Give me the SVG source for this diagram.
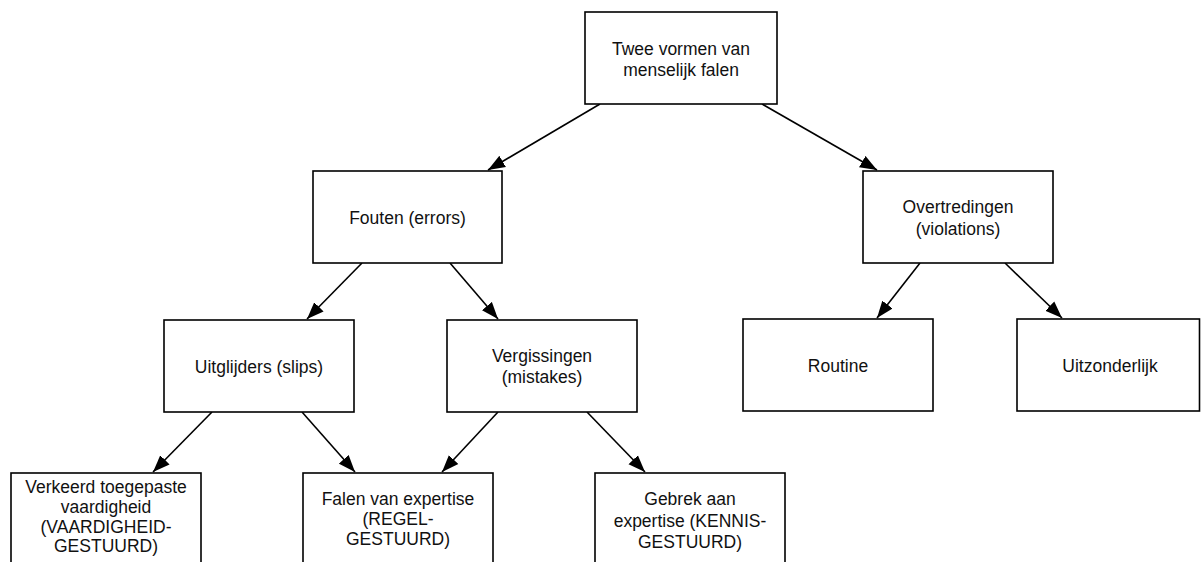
<svg xmlns="http://www.w3.org/2000/svg" width="1201" height="562" viewBox="0 0 1201 562">
<defs>
<marker id="ah" markerUnits="userSpaceOnUse" markerWidth="18" markerHeight="14" refX="17" refY="7" orient="auto">
<path d="M0,0.5 L17,7 L0,13.5 z" fill="#000"/>
</marker>
<style>
.box{fill:#fff;stroke:#000;stroke-width:1.6}
.t{font-family:"Liberation Sans",Arial,sans-serif;font-size:17.5px;fill:#111;text-anchor:middle}
.c{stroke:#000;stroke-width:1.6;fill:none;marker-end:url(#ah)}
</style>
</defs>
<rect width="1201" height="562" fill="#fff"/>
<g id="connectors">
<line class="c" x1="600" y1="104" x2="488" y2="170"/>
<line class="c" x1="762" y1="104" x2="877" y2="170"/>
<line class="c" x1="362" y1="263" x2="307" y2="319"/>
<line class="c" x1="450" y1="263" x2="498" y2="319"/>
<line class="c" x1="920" y1="263" x2="877" y2="318"/>
<line class="c" x1="1005" y1="263" x2="1062" y2="318"/>
<line class="c" x1="212" y1="412" x2="153" y2="472"/>
<line class="c" x1="302" y1="412" x2="355" y2="472"/>
<line class="c" x1="498" y1="412" x2="442" y2="472"/>
<line class="c" x1="587" y1="412" x2="645" y2="472"/>
</g>
<g id="n-top">
<rect class="box" x="585" y="12" width="192" height="92"/>
<text class="t" x="681" y="55">Twee vormen van</text>
<text class="t" x="681" y="76">menselijk falen</text>
</g>
<g id="n-fouten">
<rect class="box" x="313" y="171" width="189" height="92"/>
<text class="t" x="407.5" y="224">Fouten (errors)</text>
</g>
<g id="n-overtredingen">
<rect class="box" x="863" y="171" width="190" height="92"/>
<text class="t" x="958" y="213">Overtredingen</text>
<text class="t" x="958" y="235">(violations)</text>
</g>
<g id="n-uitglijders">
<rect class="box" x="164" y="320" width="190" height="92"/>
<text class="t" x="259" y="373">Uitglijders (slips)</text>
</g>
<g id="n-vergissingen">
<rect class="box" x="447" y="320" width="190" height="92"/>
<text class="t" x="542" y="362">Vergissingen</text>
<text class="t" x="542" y="383">(mistakes)</text>
</g>
<g id="n-routine">
<rect class="box" x="743" y="319" width="190" height="92"/>
<text class="t" x="838" y="372">Routine</text>
</g>
<g id="n-uitzonderlijk">
<rect class="box" x="1017" y="319" width="182.5" height="92"/>
<text class="t" x="1110" y="372">Uitzonderlijk</text>
</g>
<g id="n-verkeerd">
<rect class="box" x="11" y="473" width="190" height="110"/>
<text class="t" x="106" y="493">Verkeerd toegepaste</text>
<text class="t" x="106" y="513">vaardigheid</text>
<text class="t" x="106" y="533">(VAARDIGHEID-</text>
<text class="t" x="106" y="552">GESTUURD)</text>
</g>
<g id="n-falen">
<rect class="box" x="303" y="473" width="190" height="110"/>
<text class="t" x="398" y="505">Falen van expertise</text>
<text class="t" x="398" y="525">(REGEL-</text>
<text class="t" x="398" y="545">GESTUURD)</text>
</g>
<g id="n-gebrek">
<rect class="box" x="595" y="473" width="190" height="110"/>
<text class="t" x="690" y="505">Gebrek aan</text>
<text class="t" x="690" y="527">expertise (KENNIS-</text>
<text class="t" x="690" y="548">GESTUURD)</text>
</g>
</svg>
